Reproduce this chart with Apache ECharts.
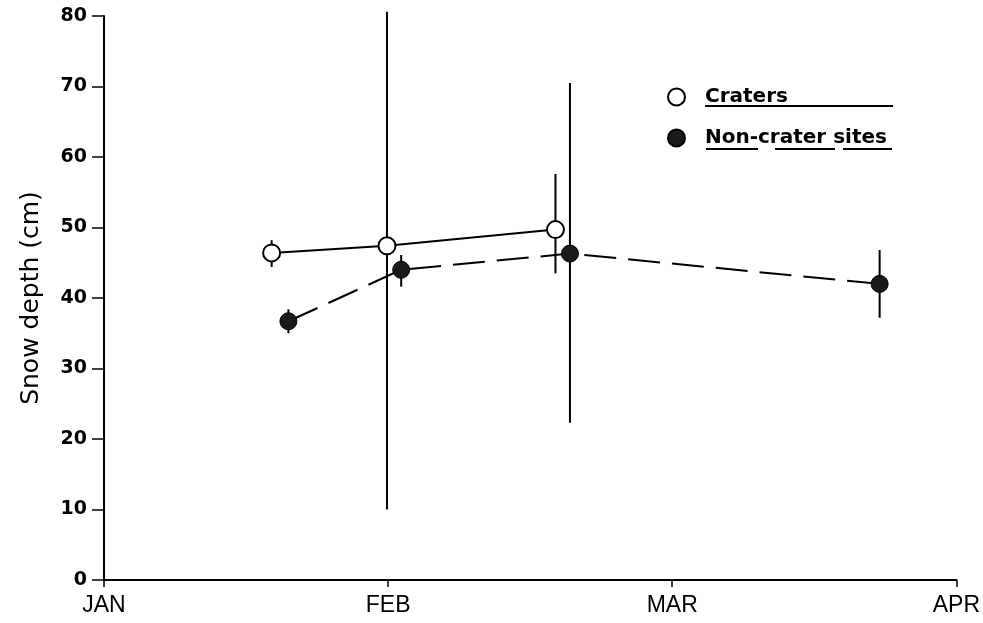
<!DOCTYPE html>
<html>
<head>
<meta charset="utf-8">
<script src="https://cdn.jsdelivr.net/npm/echarts@6/dist/echarts.min.js"></script>
<style>html,body{margin:0;padding:0;background:#fff;}#c{width:983px;height:623px;}</style>
</head>
<body>
<div id="c"></div>
<script>
// x values are in months from Jan 1 (0 = JAN, 1 = FEB, ...)
const monthLabels = ['JAN', 'FEB', 'MAR', 'APR'];
const craterX = [0.59, 0.996, 1.589];
const craterY = [46.4, 47.4, 49.7];
const craterLow = [44.4, 10.0, 43.5];
const craterHigh = [48.2, 80.6, 57.6];
const siteX = [0.649, 1.046, 1.64, 2.73];
const siteY = [36.7, 44.0, 46.3, 42.0];
const siteLow = [35.0, 41.6, 22.3, 37.2];
const siteHigh = [38.4, 46.1, 70.5, 46.8];

const chart = echarts.init(document.getElementById('c'));

function errSeries(xs, lows, highs) {
  return {
    type: 'custom',
    silent: true,
    clip: false,
    z: 1,
    data: xs.map((x, i) => [x, lows[i], highs[i]]),
    encode: { x: 0, y: [1, 2] },
    renderItem: function (params, api) {
      const a = api.coord([api.value(0), api.value(1)]);
      const b = api.coord([api.value(0), api.value(2)]);
      return {
        type: 'line',
        shape: { x1: a[0], y1: a[1], x2: b[0], y2: b[1] },
        style: { stroke: '#000', lineWidth: 2 }
      };
    }
  };
}

const font = 'DejaVu Sans, Liberation Sans, sans-serif';

chart.setOption({
  animation: false,
  backgroundColor: '#fff',
  grid: { left: 104, right: 25, top: 16, bottom: 43 },
  legend: {
    left: 662, top: 82, orient: 'vertical', itemGap: 21,
    itemWidth: 17, itemHeight: 17,
    textStyle: { fontFamily: font, fontSize: 20, fontWeight: 'bold', lineHeight: 17, color: '#000', padding: [0, 0, 0, 15] },
    data: [{ name: 'Craters', icon: 'circle' }, { name: 'Non-crater sites', icon: 'circle' }]
  },
  xAxis: {
    type: 'value', min: 0, max: 3, interval: 1,
    splitLine: { show: false },
    axisLine: { lineStyle: { color: '#000', width: 2 } },
    axisTick: { length: 7, lineStyle: { color: '#000', width: 1.5 } },
    axisLabel: {
      color: '#000', fontSize: 23, fontFamily: 'Liberation Sans Narrow, Liberation Sans, sans-serif',
      margin: 14,
      formatter: v => monthLabels[Math.round(v)]
    }
  },
  yAxis: {
    type: 'value', min: 0, max: 80, interval: 10,
    name: 'Snow depth (cm)', nameLocation: 'middle', nameGap: 60,
    nameTextStyle: { fontFamily: font, fontSize: 25, color: '#000' },
    splitLine: { show: false },
    axisLine: { show: true, lineStyle: { color: '#000', width: 2 } },
    axisTick: { show: true, length: 12, lineStyle: { color: '#000', width: 1.5 } },
    axisLabel: { color: '#000', fontSize: 19, fontWeight: 'bold', fontFamily: font, margin: 17 }
  },
  series: [
    errSeries(craterX, craterLow, craterHigh),
    errSeries(siteX, siteLow, siteHigh),
    {
      name: 'Craters', type: 'line', z: 3,
      data: craterX.map((x, i) => [x, craterY[i]]),
      symbol: 'circle', symbolSize: 17,
      lineStyle: { color: '#000', width: 2 },
      itemStyle: { color: '#fff', borderColor: '#000', borderWidth: 2 }
    },
    {
      name: 'Non-crater sites', type: 'line', z: 3,
      data: siteX.map((x, i) => [x, siteY[i]]),
      symbol: 'circle', symbolSize: 17,
      lineStyle: { color: '#000', width: 2, type: [32, 12] },
      itemStyle: { color: '#1a1a1a', borderColor: '#000', borderWidth: 1 }
    }
  ],
  graphic: [
    { type: 'line', shape: { x1: 705, y1: 106, x2: 893, y2: 106 }, style: { stroke: '#000', lineWidth: 2 } },
    { type: 'line', shape: { x1: 706, y1: 149, x2: 758, y2: 149 }, style: { stroke: '#000', lineWidth: 2 } },
    { type: 'line', shape: { x1: 775, y1: 149, x2: 835, y2: 149 }, style: { stroke: '#000', lineWidth: 2 } },
    { type: 'line', shape: { x1: 843, y1: 149, x2: 892, y2: 149 }, style: { stroke: '#000', lineWidth: 2 } }
  ]
});
</script>
</body>
</html>
